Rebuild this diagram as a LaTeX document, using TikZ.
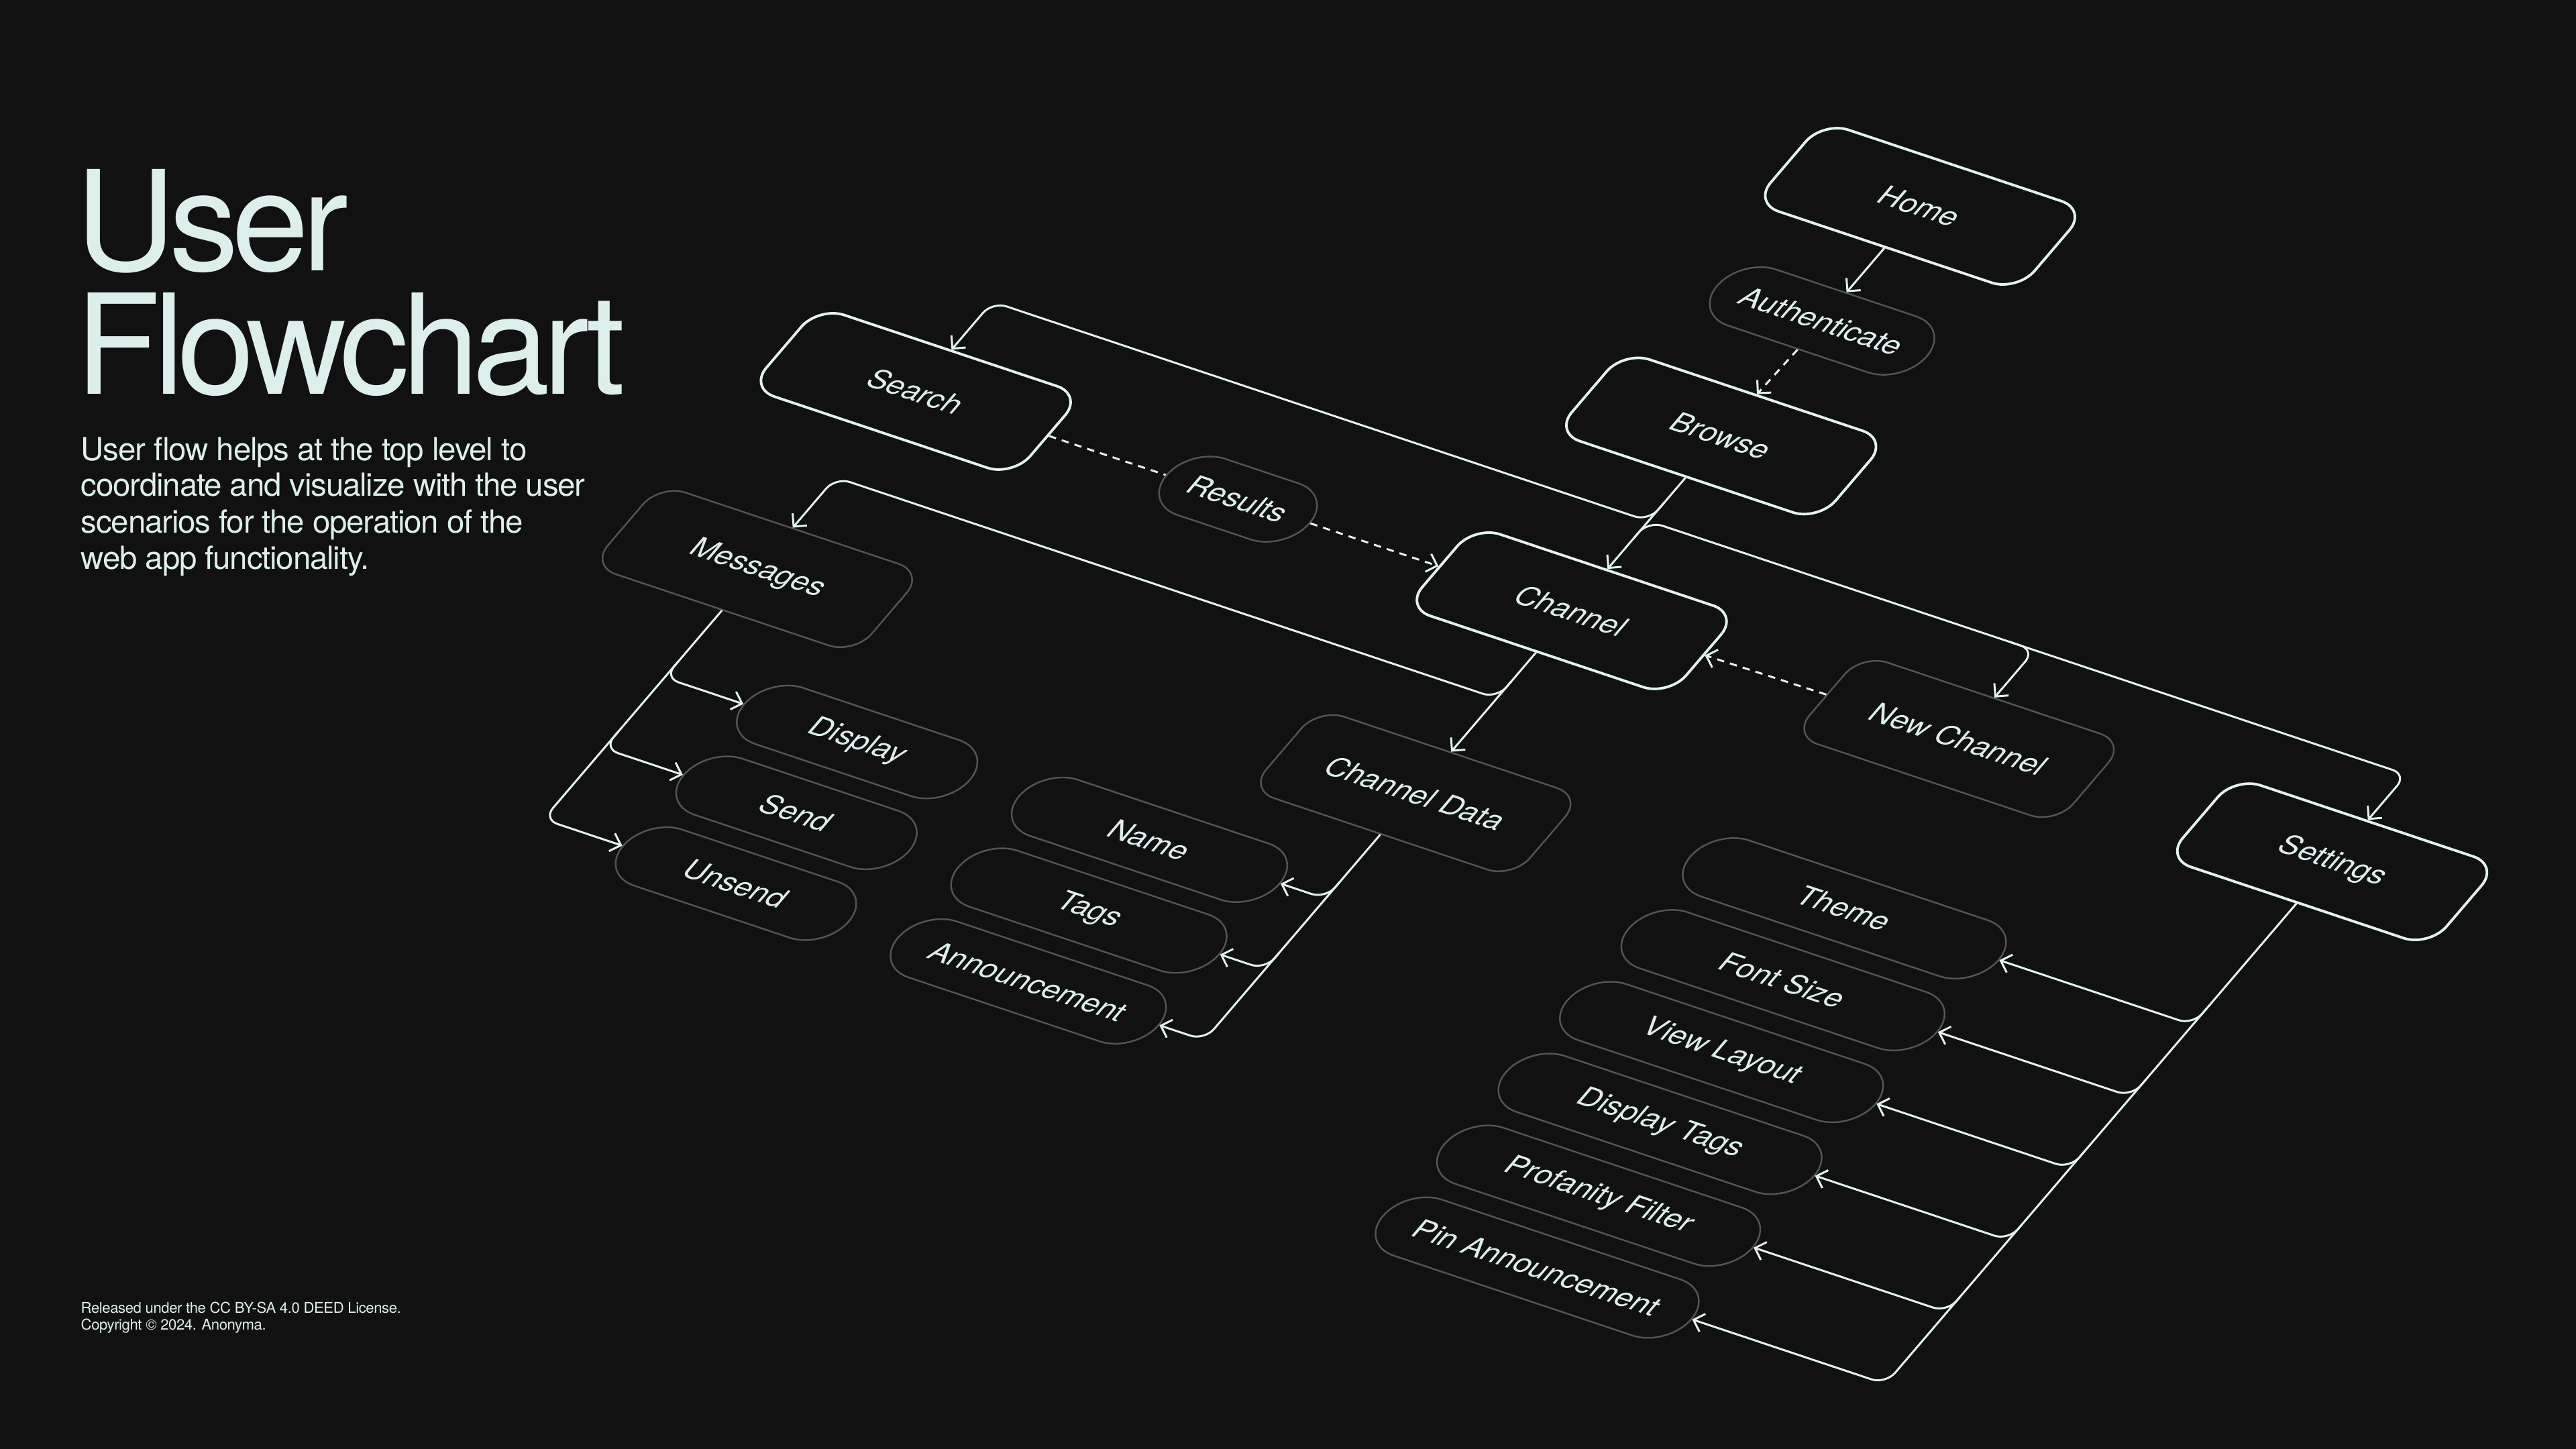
\documentclass[tikz,border=0pt]{standalone}
\usepackage{fontspec}
\setmainfont{TeX Gyre Heros}
\newfontfamily\titlefont[LetterSpace=-5]{TeX Gyre Heros}
\newfontfamily\parafont[LetterSpace=-2.5]{TeX Gyre Heros}
\newfontfamily\footfont[LetterSpace=-2]{TeX Gyre Heros}
\usetikzlibrary{arrows.meta,shapes.misc}
\definecolor{bgc}{HTML}{111111}
\definecolor{txt}{HTML}{DCEFEB}
\definecolor{linec}{HTML}{E2F3EF}
\definecolor{grayc}{HTML}{545454}
\newcommand\nodefont{\fontsize{12.8}{14}\selectfont}
\tikzset{
  wbox/.style={draw=linec, line width=1.1pt, rectangle, rounded corners=4mm,
    minimum width=4.15cm, minimum height=1.6cm, inner sep=0pt,
    transform shape, text=txt, font=\nodefont},
  gbox/.style={wbox, draw=grayc, line width=0.7pt},
  pillnode/.style={draw=grayc, line width=0.7pt, rounded rectangle,
    minimum height=1.1cm, inner sep=0pt, transform shape, text=txt, font=\nodefont},
  conn/.style={draw=linec, line width=0.85pt, rounded corners=2.2mm},
  arr/.style={-{Straight Barb[length=1.4mm,width=2.8mm]}},
  dsh/.style={dash pattern=on 1.1mm off 0.9mm},
  ttl/.style={anchor=base west, inner sep=0pt, text=txt},
}
\begin{document}
\begin{tikzpicture}
\fill[bgc] (0,0) rectangle (38.4,-21.6);
\useasboundingbox (0,0) rectangle (38.4,-21.6);

% title and text
\node[ttl, font=\titlefont\fontsize{59}{59}\selectfont] (t1) at (1.12,-4.04) {User};
\node[ttl, font=\titlefont\fontsize{59}{59}\selectfont] (t2) at (1.12,-5.88) {Flowchart};
\node[ttl, font=\parafont\fontsize{13.5}{15.3}\selectfont] (p1) at (1.2,-6.86) {User flow helps at the top level to};
\node[ttl, font=\parafont\fontsize{13.5}{15.3}\selectfont] (p2) at (1.2,-7.40) {coordinate and visualize with the user};
\node[ttl, font=\parafont\fontsize{13.5}{15.3}\selectfont] (p3) at (1.2,-7.94) {scenarios for the operation of the};
\node[ttl, font=\parafont\fontsize{13.5}{15.3}\selectfont] (p4) at (1.2,-8.48) {web app functionality.};
\node[ttl, font=\footfont\fontsize{6.3}{7}\selectfont] (f1) at (1.2,-19.57) {Released under the CC BY-SA 4.0 DEED License.};
\node[ttl, font=\footfont\fontsize{6.3}{7}\selectfont] (f2) at (1.2,-19.82) {Copyright \textcopyright\ 2024. Anonyma.};

\begin{scope}[x=0.01cm, y=-0.01cm, cm={0.948,-0.317,0.65,0.76,(0,0)}]
  % nodes
  \node[wbox] (home) at (2565,-665) {Home};
  \node[pillnode, minimum width=3.3cm] (auth) at (2565,-440) {Authenticate};
  \node[wbox] (browse) at (2562,-213) {Browse};
  \node[wbox] (search) at (1530,130) {Search};
  \node[pillnode, minimum width=2.25cm] (results) at (2037,130) {Results};
  \node[wbox] (channel) at (2562,130) {Channel};
  \node[gbox] (newch) at (3170,128) {New Channel};
  \node[wbox] (settings) at (3755,125) {Settings};
  \node[gbox] (messages) at (1522,482) {Messages};
  \node[gbox] (chdata) at (2562,488) {Channel Data};

  \node[pillnode, minimum width=3.55cm] (display) at (1825,695) {Display};
  \node[pillnode, minimum width=3.55cm] (send) at (1825,834) {Send};
  \node[pillnode, minimum width=3.55cm] (unsend) at (1825,973) {Unsend};

  \node[pillnode, minimum width=4.1cm] (name) at (2285,695) {Name};
  \node[pillnode, minimum width=4.1cm] (tags) at (2285,834) {Tags};
  \node[pillnode, minimum width=4.1cm] (announce) at (2285,973) {Announcement};

  \node[pillnode, minimum width=4.85cm] (theme) at (3207,445) {Theme};
  \node[pillnode, minimum width=4.85cm] (fontsize) at (3207,586) {Font Size};
  \node[pillnode, minimum width=4.85cm] (viewlayout) at (3207,727) {View Layout};
  \node[pillnode, minimum width=4.85cm] (disptags) at (3207,868) {Display Tags};
  \node[pillnode, minimum width=4.85cm] (profanity) at (3207,1009) {Profanity Filter};
  \node[pillnode, minimum width=4.85cm] (pin) at (3207,1150) {Pin Announcement};

  % junctions
  \coordinate (j1) at (2562,-46);
  \coordinate (j2) at (2562,302);

  % main column
  \draw[conn,arr] (home.south) -- (auth.north);
  \draw[conn,arr,dsh] (auth.south) -- (browse.north);
  \draw[conn,arr] (browse.south) -- (channel.north);
  \draw[conn,arr] (2562,-82) -- (j1) -- (1530,-46) -- (search.north);
  \draw[conn,arr] (2562,-12) -- (j1) -- (3755,-46) -- (settings.north);
  \draw[conn,arr] (3130,-46) -- (3170,-46) -- (newch.north);

  % row dashed links
  \draw[conn,dsh] (search.east) -- (results.west);
  \draw[conn,dsh,arr] (results.east) -- (channel.west);
  \draw[conn,dsh,arr] (newch.west) -- (channel.east);

  % channel
  \draw[conn,arr] (channel.south) -- (chdata.north);
  \draw[conn,arr] (2562,268) -- (j2) -- (1522,302) -- (messages.north);

  % messages children
  \draw[conn,arr] (messages.south) -- (1522,973) -- (unsend.west);
  \draw[conn,arr] (1522,663) -- (1522,695) -- (display.west);
  \draw[conn,arr] (1522,802) -- (1522,834) -- (send.west);

  % channel data children
  \draw[conn,arr] (chdata.south) -- (2562,973) -- (announce.east);
  \draw[conn,arr] (2562,663) -- (2562,695) -- (name.east);
  \draw[conn,arr] (2562,802) -- (2562,834) -- (tags.east);

  % settings children
  \draw[conn,arr] (settings.south) -- (3755,1150) -- (pin.east);
  \draw[conn,arr] (3755,413) -- (3755,445) -- (theme.east);
  \draw[conn,arr] (3755,554) -- (3755,586) -- (fontsize.east);
  \draw[conn,arr] (3755,695) -- (3755,727) -- (viewlayout.east);
  \draw[conn,arr] (3755,836) -- (3755,868) -- (disptags.east);
  \draw[conn,arr] (3755,977) -- (3755,1009) -- (profanity.east);
\end{scope}
\end{tikzpicture}
\end{document}
